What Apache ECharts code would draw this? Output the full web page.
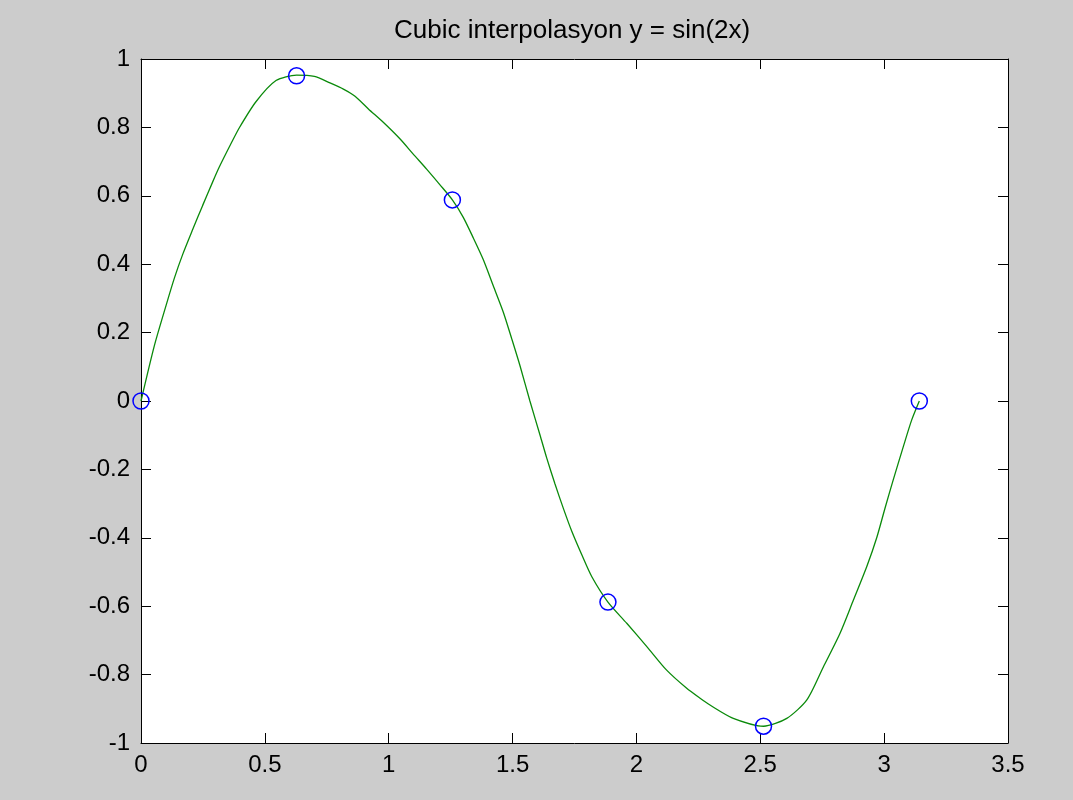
<!DOCTYPE html>
<html>
<head>
<meta charset="utf-8">
<script src="https://cdn.jsdelivr.net/npm/echarts@6/dist/echarts.min.js"></script>
<style>
html,body{margin:0;padding:0;background:#cccccc;}
#chart{width:1073px;height:800px;}
</style>
</head>
<body>
<div id="chart"></div>
<script>
// Data points (blue circles)
var nodeX = [0, 0.628, 1.257, 1.885, 2.513, 3.142];
var nodeY = [0, 0.951, 0.588, -0.588, -0.951, 0];

// Interpolated curve (green line)
var curveX = [0, 0.054, 0.101, 0.135, 0.168, 0.209, 0.249, 0.289, 0.316, 0.363, 0.397, 0.464, 0.545, 0.628, 0.700,
  0.763, 0.817, 0.864, 0.918, 0.978, 1.046, 1.099, 1.153, 1.207, 1.257, 1.301, 1.342, 1.382, 1.422, 1.463,
  1.497, 1.530, 1.570, 1.611, 1.638, 1.671, 1.705, 1.739, 1.779, 1.820, 1.885, 1.961, 2.042, 2.122, 2.203,
  2.257, 2.297, 2.391, 2.513, 2.607, 2.688, 2.755, 2.822, 2.876, 2.930, 2.970, 3.004, 3.037, 3.078, 3.111, 3.142];
var curveY = [0, 0.162, 0.279, 0.360, 0.428, 0.502, 0.572, 0.640, 0.684, 0.752, 0.799, 0.875, 0.937, 0.953, 0.949,
  0.930, 0.912, 0.891, 0.854, 0.815, 0.766, 0.722, 0.678, 0.632, 0.588, 0.537, 0.476, 0.413, 0.337, 0.259,
  0.181, 0.103, 0.000, -0.100, -0.167, -0.242, -0.314, -0.381, -0.449, -0.514, -0.588, -0.650, -0.718, -0.787, -0.840,
  -0.869, -0.889, -0.928, -0.951, -0.928, -0.874, -0.777, -0.679, -0.582, -0.484, -0.400, -0.312, -0.230, -0.132, -0.056, 0];

var titleText = 'Cubic interpolasyon y = sin(2x)';

var curveData = curveX.map(function (x, i) { return [x, curveY[i]]; });
var nodeData = nodeX.map(function (x, i) { return [x, nodeY[i]]; });

var FONT = 'Liberation Sans, Arial, sans-serif';
var axisCommon = {
  type: 'value',
  axisLine: { show: true, onZero: false, lineStyle: { color: '#000', width: 1 } },
  axisTick: { show: true, inside: true, length: 10, lineStyle: { color: '#000', width: 1 } },
  splitLine: { show: false }
};

var chart = echarts.init(document.getElementById('chart'));
chart.setOption({
  backgroundColor: '#cccccc',
  animation: false,
  title: {
    text: titleText,
    left: 394, top: 18, padding: 0,
    textStyle: { fontFamily: FONT, fontSize: 26, fontWeight: 'normal', color: '#000' }
  },
  grid: { left: 141, top: 59, width: 867, height: 684, show: true, backgroundColor: '#ffffff', borderWidth: 0 },
  xAxis: [
    Object.assign({}, axisCommon, {
      position: 'bottom', min: 0, max: 3.5, interval: 0.5,
      axisLabel: { margin: 10, fontFamily: FONT, fontSize: 24, color: '#000' }
    }),
    Object.assign({}, axisCommon, {
      position: 'top', min: 0, max: 3.5, interval: 0.5, axisLabel: { show: false }
    })
  ],
  yAxis: [
    Object.assign({}, axisCommon, {
      position: 'left', min: -1, max: 1, interval: 0.2,
      axisLabel: { margin: 11, fontFamily: FONT, fontSize: 24, color: '#000' }
    }),
    Object.assign({}, axisCommon, {
      position: 'right', min: -1, max: 1, interval: 0.2, axisLabel: { show: false }
    })
  ],
  series: [
    {
      type: 'line', data: curveData, xAxisIndex: 0, yAxisIndex: 0,
      showSymbol: false, smooth: 0.25, clip: false,
      lineStyle: { color: '#0a8a0a', width: 1.3 }
    },
    {
      type: 'scatter', data: nodeData, xAxisIndex: 0, yAxisIndex: 0,
      symbol: 'circle', symbolSize: 16, clip: false,
      itemStyle: { color: 'rgba(0,0,0,0)', opacity: 1, borderColor: '#0000ff', borderWidth: 1.5 },
      z: 3
    }
  ]
});
</script>
</body>
</html>
